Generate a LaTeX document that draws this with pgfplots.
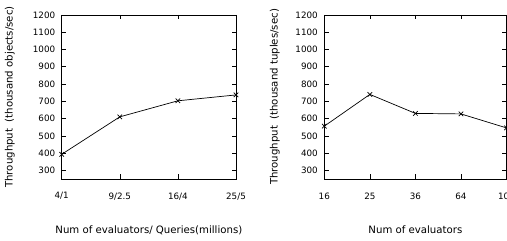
\documentclass[border=0pt]{standalone}
\usepackage{pgfplots}
\pgfplotsset{compat=1.18}
\usepackage{fontspec}
\setmainfont{DejaVu Sans}
\begin{document}
\begin{tikzpicture}
\useasboundingbox (0bp,0bp) rectangle (507bp,241bp);
\pgfplotsset{
  myax/.style={
    scale only axis,
    height=164bp,
    ymin=250, ymax=1200,
    ytick={300,400,...,1200},
    xtick=data,
    tick align=inside,
    major tick length=4.5bp,
    tick style={black, line width=0.6bp},
    axis line style={line width=0.8bp},
    tick label style={font=\fontsize{8.8}{10}\selectfont},
    label style={font=\fontsize{10.2}{12}\selectfont},
    /pgf/number format/assume math mode=true,
    /pgf/number format/1000 sep={},
    yticklabel style={xshift=-3bp},
    xticklabel style={yshift=-10bp},
    clip=false,
  }
}
\begin{axis}[myax, at={(61.7bp,62bp)}, anchor=south west, width=174.3bp,
  xmin=0, xmax=3,
  xticklabels={4/1,9/2.5,16/4,25/5},
  xlabel={Num of evaluators/ Queries(millions)},
  ylabel={Throughput\ \ (thousand objects/sec)},
  xlabel style={at={(axis description cs:0.5,-0.311)}, anchor=center},
  ylabel style={at={(axis description cs:-0.297,0.5)}, anchor=center},
]
\addplot[black, line width=0.7bp, mark=x, mark size=3.2bp] coordinates {
(0,393) (1,610) (2,703) (3,737)};
\end{axis}
\begin{axis}[myax, at={(324.3bp,62bp)}, anchor=south west, width=182.2bp,
  xmin=0, xmax=4,
  xticklabels={16,25,36,64,100},
  xlabel={Num of evaluators},
  ylabel={Throughput\ \ (thousand tuples/sec)},
  xlabel style={at={(axis description cs:0.5,-0.311)}, anchor=center},
  ylabel style={at={(axis description cs:-0.271,0.5)}, anchor=center},
]
\addplot[black, line width=0.7bp, mark=x, mark size=3.2bp] coordinates {
(0,556) (1,740) (2,630) (3,627) (4,546)};
\end{axis}
\end{tikzpicture}
\end{document}
